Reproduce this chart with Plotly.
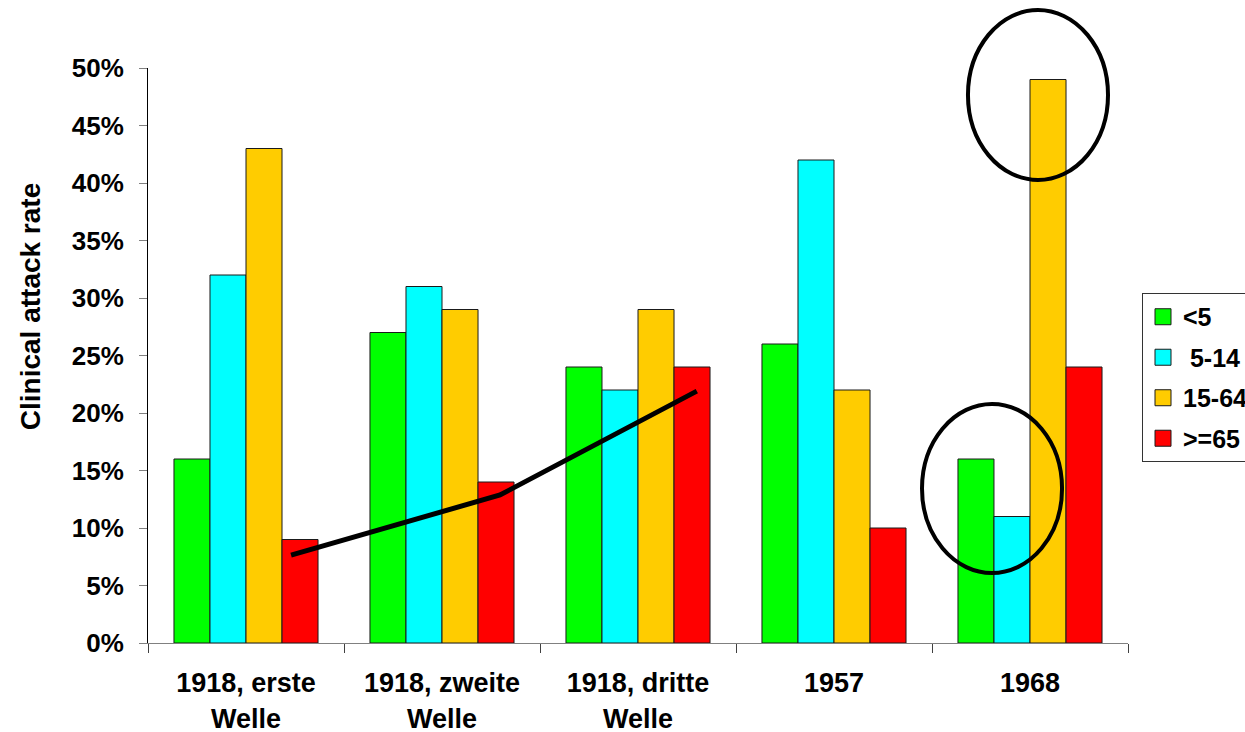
import plotly.graph_objects as go

categories = ["1918, erste<br>Welle", "1918, zweite<br>Welle", "1918, dritte<br>Welle", "1957", "1968"]
series_names = ["<5", "\u00a05-14", "15-64", ">=65"]
under5 = [16, 27, 24, 26, 16]
age5_14 = [32, 31, 22, 42, 11]
age15_64 = [43, 29, 29, 22, 49]
over65 = [9, 14, 24, 10, 24]
series_values = [under5, age5_14, age15_64, over65]
colors = ["#00FF00", "#00FFFF", "#FFCC00", "#FF0000"]

# trend line (x in category units, y in percent)
trend_x = [0.23, 1.296, 2.30]
trend_y = [7.65, 12.87, 21.9]

y_ticks = list(range(0, 55, 5))
y_tick_labels = [f"{v}%" for v in y_ticks]

FONT = "Liberation Sans, Arial, sans-serif"
xpos = list(range(len(categories)))

fig = go.Figure()
for i, (name, vals, col) in enumerate(zip(series_names, series_values, colors)):
    fig.add_trace(go.Bar(
        x=xpos, y=vals, name=name, legendgroup=f"g{i}", showlegend=False,
        marker=dict(color=col, line=dict(color="#1a1a1a", width=1)),
    ))
    # legend entry with a larger square swatch
    fig.add_trace(go.Scatter(
        x=[None], y=[None], mode="markers", name=name, legendgroup=f"g{i}",
        marker=dict(symbol="square", size=16, color=col, line=dict(color="#1a1a1a", width=1)),
    ))

fig.add_trace(go.Scatter(
    x=trend_x, y=trend_y, mode="lines", showlegend=False,
    line=dict(color="black", width=5),
))

fig.update_layout(
    width=1245, height=732,
    paper_bgcolor="white", plot_bgcolor="white",
    barmode="group", bargap=0.265, bargroupgap=0,
    margin=dict(l=148, r=117, t=68, b=89, autoexpand=False),
    font=dict(family=FONT, color="black"),
    showlegend=True,
    legend=dict(
        x=1.0143, y=0.6087, xanchor="left", yanchor="top",
        bordercolor="#333333", borderwidth=1, bgcolor="white",
        font=dict(family=FONT, size=25, weight="bold", color="black"),
        traceorder="grouped", tracegroupgap=5, itemsizing="trace",
    ),
    xaxis=dict(
        range=[-0.5, 4.5], tickmode="array", tickvals=xpos, ticktext=categories,
        ticks="", showgrid=False, zeroline=False,
        showline=True, linecolor="#808080", linewidth=1,
        tickfont=dict(family=FONT, size=27, weight="bold", color="black"),
        ticklabelstandoff=16,
        minor=dict(tickmode="array", tickvals=[i - 0.5 for i in range(len(categories) + 1)],
                   ticks="outside", ticklen=9, tickcolor="#404040", tickwidth=1, showgrid=False),
    ),
    yaxis=dict(
        range=[0, 50], tickmode="array", tickvals=y_ticks, ticktext=y_tick_labels,
        ticks="outside", ticklen=8, tickcolor="#808080", tickwidth=1,
        showgrid=False, zeroline=False,
        showline=True, linecolor="black", linewidth=1,
        tickfont=dict(family=FONT, size=26, weight="bold", color="black"),
        ticklabelstandoff=10,
    ),
    annotations=[dict(
        text="Clinical attack rate", textangle=-90, showarrow=False,
        xref="paper", yref="paper", x=-0.1204, y=0.584,
        xanchor="center", yanchor="middle",
        font=dict(family=FONT, size=28, weight="bold", color="black"),
    )],
    shapes=[
        dict(type="circle", xref="paper", yref="paper",
             x0=0.8367, x1=0.9796, y0=0.8052, y1=1.1009,
             line=dict(color="black", width=4)),
        dict(type="circle", xref="paper", yref="paper",
             x0=0.7898, x1=0.9327, y0=0.1217, y1=0.4157,
             line=dict(color="black", width=4)),
    ],
)

fig.write_html("out.html", config={"displayModeBar": False},
               post_script="document.body.style.margin='0';")
